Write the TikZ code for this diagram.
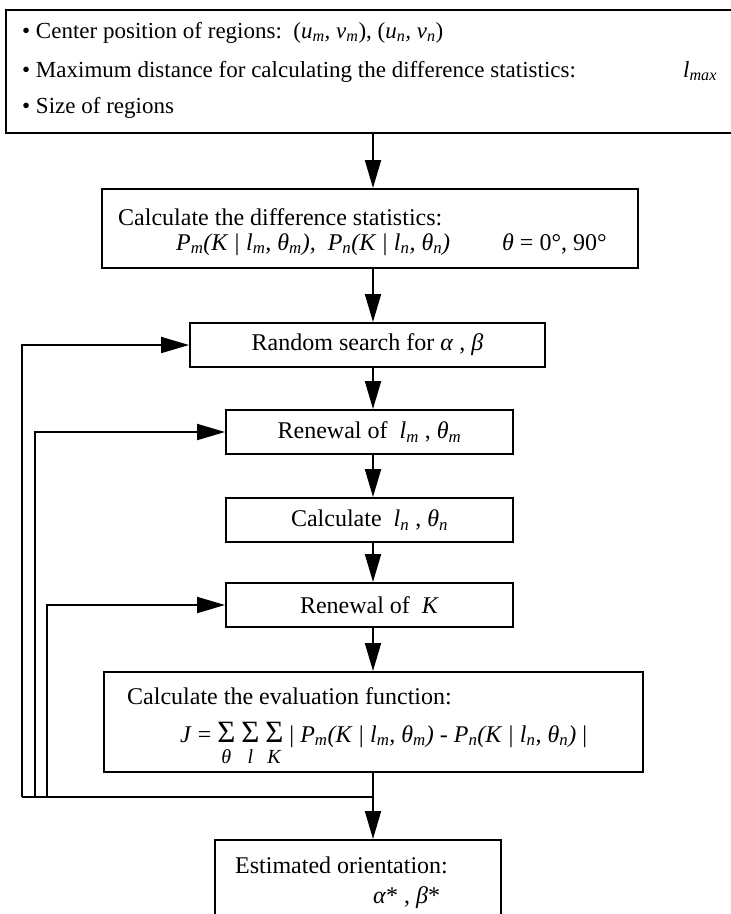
\documentclass[tikz,border=0pt]{standalone}
\usepackage{fontspec}
\setmainfont{Liberation Serif}
\usetikzlibrary{arrows.meta}
\newcommand{\sbs}[1]{\textsubscript{#1}}
\newcommand{\sumu}[1]{\begin{tabular}[t]{@{}c@{}}{\fontsize{31}{31}\selectfont Σ}\\[-7pt]{\fontsize{20}{24}\selectfont\textit{#1}}\end{tabular}}
\begin{document}
\begin{tikzpicture}[x=1pt,y=-1pt,
  box/.style={draw, line width=2pt, inner sep=0pt, font=\fontsize{24}{28}\selectfont},
  txt/.style={anchor=base west, inner sep=0pt, font=\fontsize{24}{28}\selectfont},
  toptxt/.style={anchor=base west, inner sep=0pt, font=\fontsize{23}{27}\selectfont},
  arr/.style={line width=2pt, -{Triangle[length=28pt,width=16pt]}},
  ln/.style={line width=2pt}]
\useasboundingbox (0,0) rectangle (731,914);
\clip (0,0) rectangle (731,914);
% boxes
\node[box, minimum width=740pt, minimum height=123pt] (inp) at (376,71.5) {};
\node[box, minimum width=536pt, minimum height=79pt] (stat) at (370,228.5) {};
\node[box, minimum width=355pt, minimum height=44pt] (rnd) at (367.5,345) {Random search for \textit{α} , \textit{β}};
\node[box, minimum width=287pt, minimum height=44pt] (rlm) at (369.5,432) {Renewal of\ \ \textit{l\sbs{m}} , \textit{θ\sbs{m}}};
\node[box, minimum width=287pt, minimum height=44pt] (cln) at (369.5,520) {Calculate\ \ \textit{l\sbs{n}} , \textit{θ\sbs{n}}};
\node[box, minimum width=287pt, minimum height=44pt] (rk) at (369.5,605) {Renewal of\ \ \textit{K}};
\node[box, minimum width=539pt, minimum height=100pt] (ev) at (373.5,722) {};
\node[box, minimum width=286pt, minimum height=110pt] (est) at (358,895) {};
% texts
\node[toptxt] (t1) at (22,38) {•\ Center position of regions:\ \ (\textit{u\sbs{m}, v\sbs{m}}), (\textit{u\sbs{n}, v\sbs{n}})};
\node[toptxt] (t2) at (22,77) {•\ Maximum distance for calculating the difference statistics:};
\node[toptxt] (t2b) at (683,77) {\textit{l\sbs{max}}};
\node[toptxt] (t3) at (22,113) {•\ Size of regions};
\node[txt] (s1) at (118,225) {Calculate the difference statistics:};
\node[txt] (s2) at (176,250) {\textit{P\sbs{m}(K | l\sbs{m}, θ\sbs{m}),\ \ P\sbs{n}(K | l\sbs{n}, θ\sbs{n})}};
\node[txt] (s3) at (502,250) {\textit{θ} = 0°, 90°};
\node[txt] (e1) at (127,704) {Calculate the evaluation function:};
\node[txt] (e2) at (180,742) {\textit{J} = \sumu{θ} \sumu{l} \sumu{K} | \textit{P\sbs{m}(K | l\sbs{m}, θ\sbs{m})} - \textit{P\sbs{n}(K | l\sbs{n}, θ\sbs{n})} |};
\node[txt] (o1) at (235,873) {Estimated orientation:};
\node[txt] (o2) at (373,903) {\textit{α}* , \textit{β}*};
% connectors
\coordinate (ax) at (373,0);
\coordinate (j) at (373,797);
\coordinate (l1) at (22,797);
\coordinate (l2) at (35,797);
\coordinate (l3) at (47,797);
\draw[arr] (inp.south -| ax) -- (stat.north -| ax);
\draw[arr] (stat.south -| ax) -- (rnd.north -| ax);
\draw[arr] (rnd.south -| ax) -- (rlm.north -| ax);
\draw[arr] (rlm.south -| ax) -- (cln.north -| ax);
\draw[arr] (cln.south -| ax) -- (rk.north -| ax);
\draw[arr] (rk.south -| ax) -- (ev.north -| ax);
\draw[ln] (ev.south -| ax) -- (j);
\draw[arr] (j) -- (est.north -| ax);
\draw[ln] (j) -- (l1);
\draw[arr] (l1) |- (rnd.west);
\draw[arr] (l2) |- (rlm.west);
\draw[arr] (l3) |- (rk.west);
\end{tikzpicture}
\end{document}
